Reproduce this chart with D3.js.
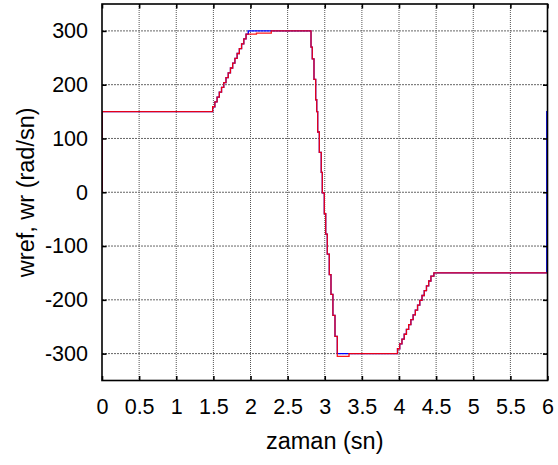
<!DOCTYPE html>
<html>
<head>
<meta charset="utf-8">
<script src="https://cdn.jsdelivr.net/npm/d3@7"></script>
<style>
  html, body { margin: 0; padding: 0; background: #fff; }
  svg { display: block; font-family: "Liberation Sans", Arial, Helvetica, sans-serif; }
</style>
</head>
<body>
<svg id="chart" width="558" height="465"></svg>
<script>
// Reference speed wref (step-after samples)
const refTime = [0, 0.002,
  1.49, 1.52, 1.55, 1.58, 1.61, 1.64, 1.67, 1.70, 1.73, 1.76, 1.79, 1.82, 1.85, 1.88, 1.91, 1.94,
  2.08, 2.28,
  2.815, 2.832, 2.855, 2.878, 2.892, 2.905, 2.927, 2.953, 2.967, 2.994, 3.013, 3.034, 3.061, 3.084, 3.110, 3.138, 3.169,
  3.327,
  3.98, 4.01, 4.04, 4.07, 4.10, 4.13, 4.16, 4.19, 4.22, 4.25, 4.28, 4.31, 4.34, 4.37, 4.40, 4.43, 4.47,
  6.0];
const refSpeed = [0, 150,
  159, 168, 177, 186, 195, 204, 213, 222, 231, 240, 249, 258, 267, 276, 285, 294,
  296, 300,
  270, 248, 210, 172, 150, 112, 74, 37, -1, -40, -78, -115, -153, -190, -229, -268, -305,
  -300,
  -291, -282, -273, -264, -255, -246, -237, -228, -219, -210, -201, -192, -183, -174, -165, -156, -150,
  -150];

// Measured rotor speed wr (step-after samples)
const actTime = [0, 0.002,
  1.49, 1.52, 1.55, 1.58, 1.61, 1.64, 1.67, 1.70, 1.73, 1.76, 1.79, 1.82, 1.85, 1.88, 1.91, 1.94,
  1.97,
  2.815, 2.832, 2.855, 2.878, 2.892, 2.905, 2.927, 2.953, 2.967, 2.994, 3.013, 3.034, 3.061, 3.084, 3.110, 3.138, 3.169,
  3.98, 4.01, 4.04, 4.07, 4.10, 4.13, 4.16, 4.19, 4.22, 4.25, 4.28, 4.31, 4.34, 4.37, 4.40, 4.43, 4.47,
  5.99, 6.0];
const actSpeed = [0, 150,
  159, 168, 177, 186, 195, 204, 213, 222, 231, 240, 249, 258, 267, 276, 285, 294,
  300,
  270, 248, 210, 172, 150, 112, 74, 37, -1, -40, -78, -115, -153, -190, -229, -268, -300,
  -291, -282, -273, -264, -255, -246, -237, -228, -219, -210, -201, -192, -183, -174, -165, -156, -150,
  150, 150];

const xTicks = [0, 0.5, 1, 1.5, 2, 2.5, 3, 3.5, 4, 4.5, 5, 5.5, 6];
const xTickLabels = ["0", "0.5", "1", "1.5", "2", "2.5", "3", "3.5", "4", "4.5", "5", "5.5", "6"];
const yTicks = [-300, -200, -100, 0, 100, 200, 300];
const yTickLabels = ["-300", "-200", "-100", "0", "100", "200", "300"];

const xLabel = "zaman (sn)";
const yLabel = "wref, wr (rad/sn)";

const svg = d3.select("#chart");
const L = 102, R = 547.5, T = 4, B = 380.5;

const x = d3.scaleLinear().domain([0, 6]).range([L, R]);
const y = d3.scaleLinear().domain([-350, 350]).range([B, T]);

// dotted grid
const grid = svg.append("g");
grid.selectAll("line.gx").data(xTicks.slice(1, -1)).join("line")
  .attr("x1", d => x(d)).attr("x2", d => x(d))
  .attr("y1", T).attr("y2", B)
  .attr("stroke", "#555").attr("stroke-width", 1).attr("stroke-dasharray", "1,1");
grid.selectAll("line.gy").data(yTicks).join("line")
  .attr("x1", L).attr("x2", R)
  .attr("y1", d => y(d)).attr("y2", d => y(d))
  .attr("stroke", "#666").attr("stroke-width", 1).attr("stroke-dasharray", "2,1");

// data lines
svg.append("clipPath").attr("id", "plotclip")
  .append("rect").attr("x", L).attr("y", T).attr("width", R - L).attr("height", B - T);

const line = d3.line().curve(d3.curveStepAfter).x(d => x(d[0])).y(d => y(d[1]));
const actData = actTime.map((t, i) => [t, actSpeed[i]]);
const refData = refTime.map((t, i) => [t, refSpeed[i]]);

const plot = svg.append("g").attr("clip-path", "url(#plotclip)");
plot.append("path").datum(actData).attr("d", line)
  .attr("fill", "none").attr("stroke", "#0000ff").attr("stroke-width", 1.3);
plot.append("path").datum(refData).attr("d", line)
  .attr("fill", "none").attr("stroke", "#ff0000").attr("stroke-width", 1.3).attr("stroke-opacity", 0.9);

// axes box
svg.append("rect").attr("x", L).attr("y", T).attr("width", R - L).attr("height", B - T)
  .attr("fill", "none").attr("stroke", "#000").attr("stroke-width", 1.6);

// inward ticks on all four sides
const tickLen = 4.5;
const axBottom = d3.axisBottom(x).tickValues(xTicks).tickSize(-tickLen).tickFormat((d, i) => xTickLabels[i]).tickPadding(18);
const axTop = d3.axisTop(x).tickValues(xTicks).tickSize(-tickLen).tickFormat("");
const axLeft = d3.axisLeft(y).tickValues(yTicks).tickSize(-tickLen).tickFormat((d, i) => yTickLabels[i]).tickPadding(14);
const axRight = d3.axisRight(y).tickValues(yTicks).tickSize(-tickLen).tickFormat("");

function style(g) {
  g.select(".domain").remove();
  g.selectAll(".tick line").attr("stroke", "#000").attr("stroke-width", 1.6);
  g.selectAll(".tick text").attr("fill", "#000").attr("font-size", 21.5);
}
svg.append("g").attr("transform", `translate(0,${B})`).call(axBottom).call(style);
svg.append("g").attr("transform", `translate(0,${T})`).call(axTop).call(style);
svg.append("g").attr("transform", `translate(${L},0)`).call(axLeft).call(style);
svg.append("g").attr("transform", `translate(${R},0)`).call(axRight).call(style);

// axis titles
svg.append("text").attr("x", (L + R) / 2).attr("y", 449)
  .attr("text-anchor", "middle").attr("font-size", 23.5).attr("fill", "#000").text(xLabel);
svg.append("text").attr("transform", `translate(34,${(T + B) / 2}) rotate(-90)`)
  .attr("text-anchor", "middle").attr("font-size", 23.5).attr("fill", "#000").text(yLabel);
</script>
</body>
</html>
